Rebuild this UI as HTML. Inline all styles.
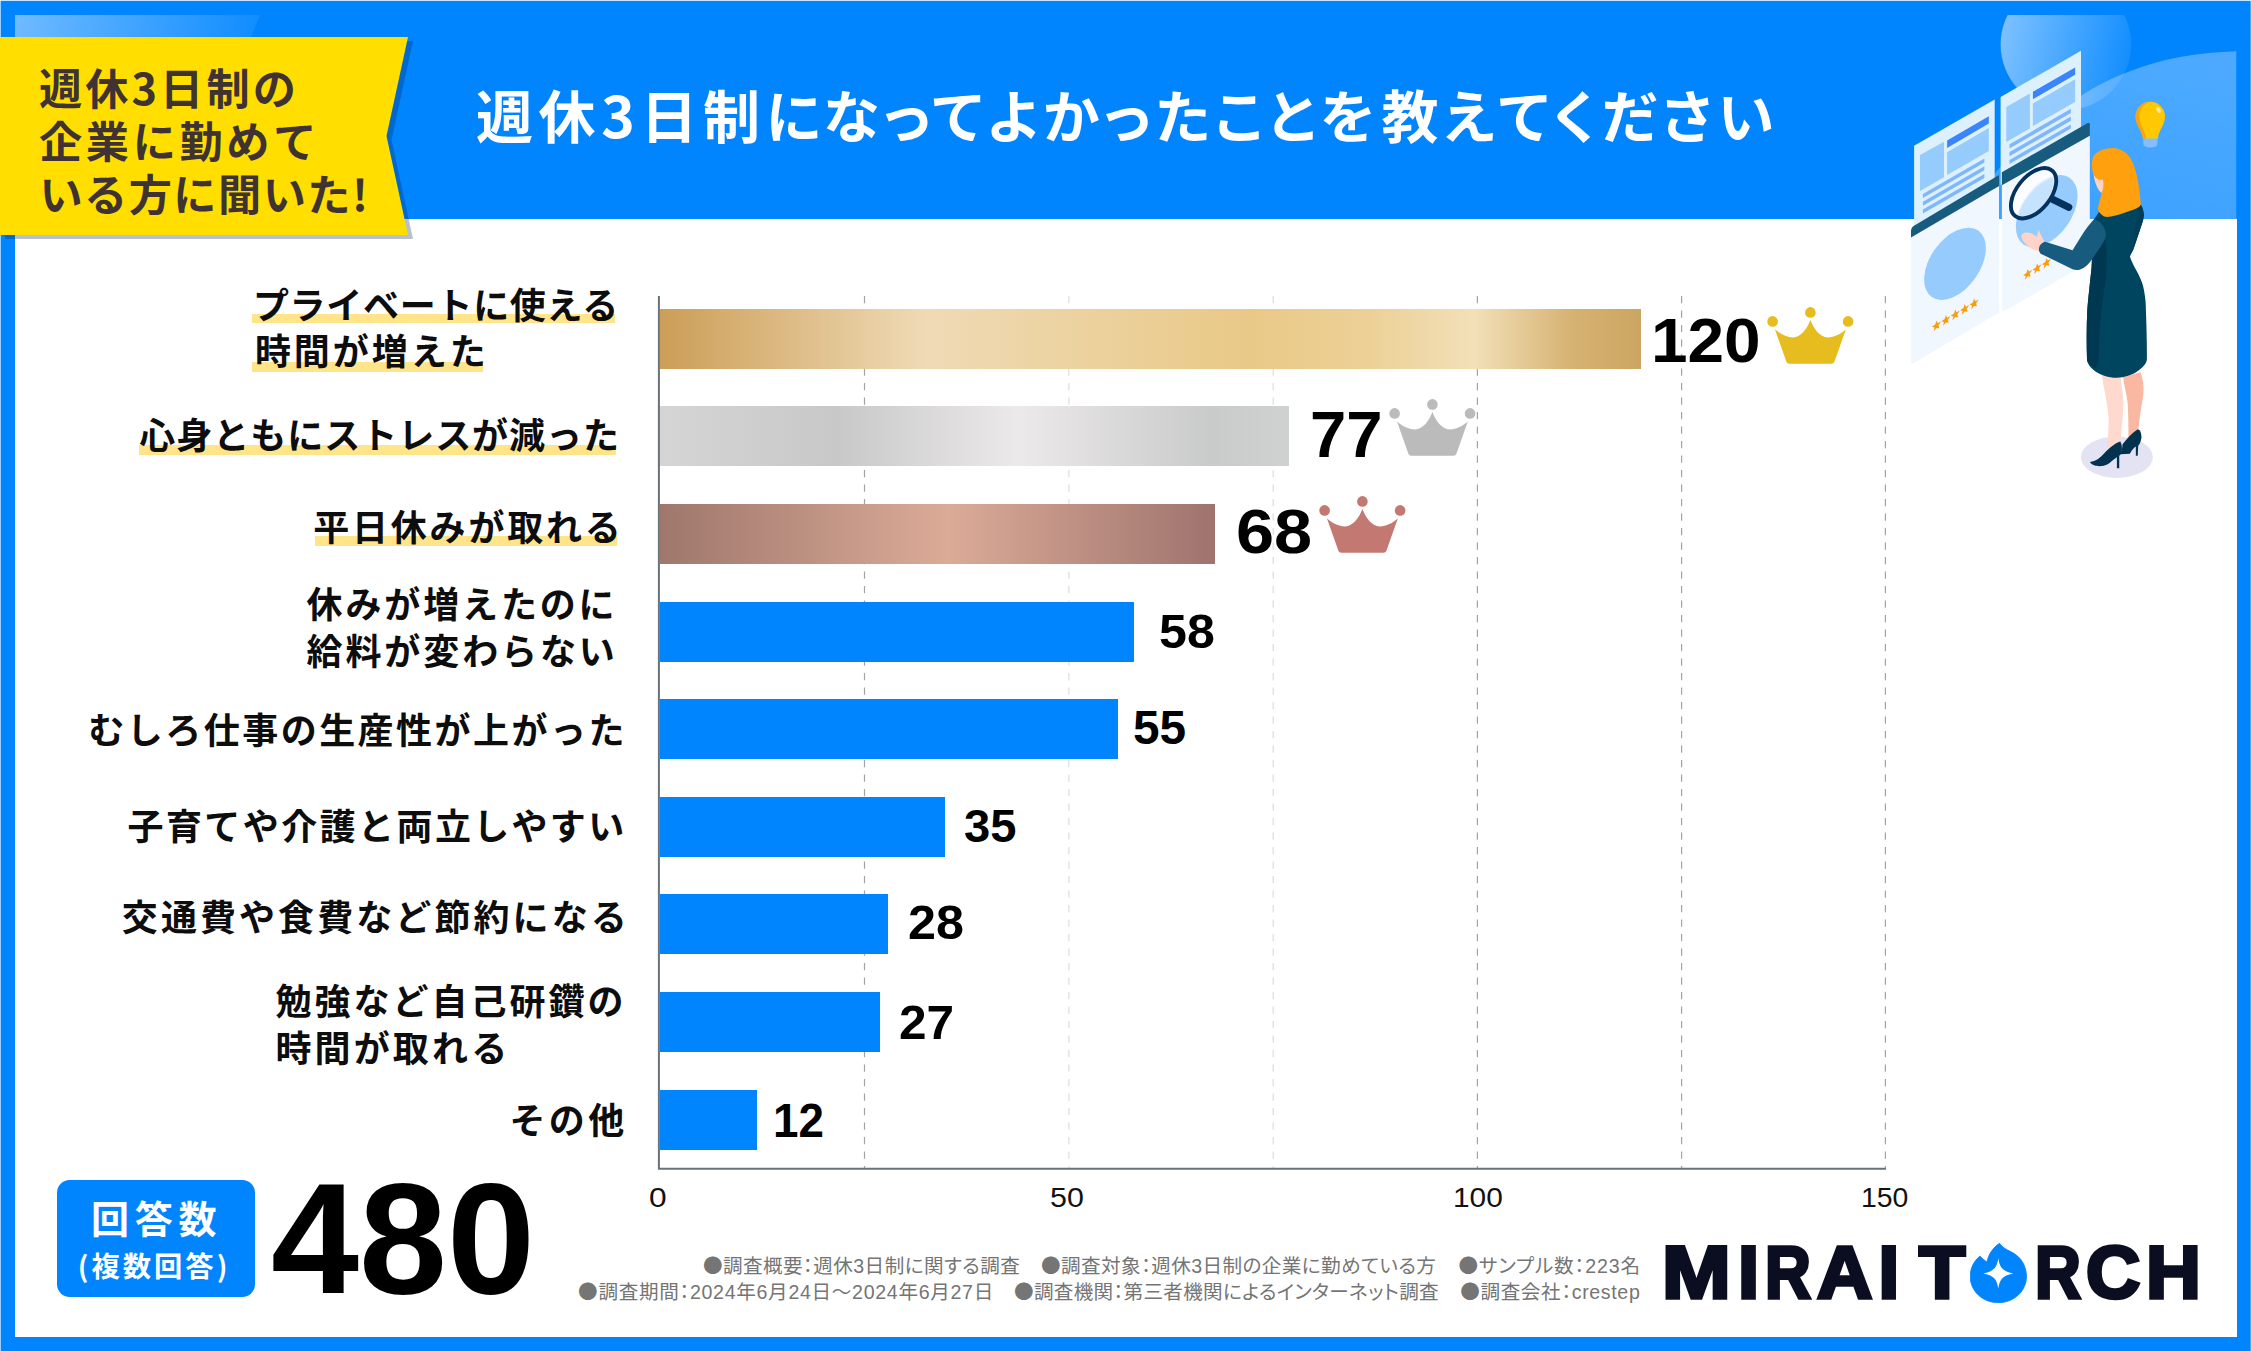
<!DOCTYPE html>
<html lang="ja">
<head>
<meta charset="utf-8">
<title>週休3日制になってよかったことを教えてください</title>
<style>
*{margin:0;padding:0;box-sizing:border-box}
html,body{width:2251px;height:1351px;overflow:hidden;background:#0085ff}
body{font-family:"Liberation Sans","Noto Sans CJK JP",sans-serif;position:relative}
.jp{font-family:"Noto Sans CJK JP","Liberation Sans",sans-serif}
#stage{position:absolute;left:0;top:0;width:2251px;height:1351px;background:#0085ff;overflow:hidden}
#paper{position:absolute;left:15px;top:219px;width:2221.5px;height:1117.5px;background:#fff}
.abs{position:absolute}
/* header */
#hl1{position:absolute;left:15px;top:15px;width:245px;height:22px;background:linear-gradient(100deg,rgba(255,255,255,.44),rgba(255,255,255,.06));clip-path:polygon(0 0,100% 0,236px 100%,0 100%)}
#title span{position:absolute;top:0;white-space:nowrap}
#title{position:absolute;left:476px;top:72.5px;font-family:"Noto Sans CJK JP",sans-serif;font-weight:700;font-size:57px;line-height:80px;color:#fff;letter-spacing:5.32px;white-space:nowrap;font-feature-settings:"palt"}
#ribbonShadow{position:absolute;left:5px;top:41px;width:408px;height:198px;background:rgba(0,30,80,.28);clip-path:polygon(0 0,100% 0,386.5px 50%,100% 100%,0 100%)}
#ribbon{position:absolute;left:0;top:37px;width:408px;height:198px;background:#ffde00;clip-path:polygon(0 0,100% 0,386.5px 50%,100% 100%,0 100%)}
.rt{position:absolute;font-family:"Noto Sans CJK JP",sans-serif;font-weight:700;font-size:43.2px;line-height:52px;color:#3e3232;white-space:nowrap}
/* chart */
.bar{position:absolute;left:660px;height:60px;background:#0085ff}
.lab{position:absolute;font-family:"Noto Sans CJK JP",sans-serif;font-weight:700;font-size:36px;line-height:46px;color:#0d0d0d;letter-spacing:2.2px;white-space:nowrap;text-align:left}
.hl{position:absolute;background:#ffe48a}
.val{position:absolute;transform-origin:0 0;font-family:"Liberation Sans",sans-serif;font-weight:700;color:#000;white-space:nowrap;line-height:1}
.ax{position:absolute;top:1183.6px;font-family:"Liberation Sans",sans-serif;font-size:27.3px;line-height:1;color:#111;transform-origin:0 0;white-space:nowrap}
.foot{position:absolute;font-family:"Liberation Sans","Noto Sans CJK JP",sans-serif;font-weight:400;font-size:19.6px;line-height:26px;color:#757575;white-space:nowrap;font-feature-settings:"palt"}
#ansBox{position:absolute;left:56.7px;top:1179.8px;width:197.9px;height:117px;border-radius:12.7px;background:#0085ff;color:#fff;text-align:left;font-family:"Noto Sans CJK JP",sans-serif;font-weight:700}
#ansBox .a{position:absolute;left:34.2px;top:12.5px;font-size:38px;line-height:50px;letter-spacing:5.8px;white-space:nowrap}
#ansBox .b{position:absolute;left:21.1px;top:65.5px;font-size:28.3px;line-height:40px;letter-spacing:3px;white-space:nowrap}
#total{position:absolute;left:270.7px;top:1160.2px;font-family:"Liberation Sans",sans-serif;font-weight:700;font-size:157.3px;line-height:1;color:#000;transform:scaleX(1.006);transform-origin:0 0}
#logo{position:absolute;left:0;top:0;width:0;height:0}
.lg{position:absolute;display:block;font-family:"Liberation Sans",sans-serif;font-weight:700;font-size:74.4px;line-height:1;color:#0a0e20;-webkit-text-stroke:3.6px #0a0e20;paint-order:stroke fill;transform-origin:0 0;white-space:nowrap}
</style>
</head>
<body>
<div id="stage">
  <div id="paper"></div>
  <div class="abs" style="left:0;top:0;width:2251px;height:1px;background:rgba(255,255,255,.78)"></div>
  <div class="abs" style="left:0;top:0;width:1px;height:1351px;background:rgba(255,255,255,.6)"></div>
  <div class="abs" style="left:2250px;top:0;width:1px;height:1351px;background:rgba(255,255,255,.3)"></div>
  <div id="hl1"></div>

  <!-- header decoration + illustration -->
  <svg id="art" class="abs" style="left:0;top:0" width="2251" height="1351" viewBox="0 0 2251 1351">
    <defs>
      <linearGradient id="gCirc" x1="0" y1="0.3" x2="1" y2="0.5">
        <stop offset="0" stop-color="#fff" stop-opacity=".5"/>
        <stop offset="1" stop-color="#fff" stop-opacity=".08"/>
      </linearGradient>
      <linearGradient id="gCurve" x1="0.7" y1="0" x2="0.3" y2="1">
        <stop offset="0" stop-color="#fff" stop-opacity=".3"/>
        <stop offset="1" stop-color="#fff" stop-opacity=".235"/>
      </linearGradient>
      <clipPath id="hdrClip"><rect x="15" y="15" width="2221.5" height="204"/></clipPath>
      <path id="star" d="M0 -4.600 L1.250 -1.500 L4.600 -1.300 L2 0.800 L2.850 4.100 L0 2.250 L-2.850 4.100 L-2 0.800 L-4.600 -1.300 L-1.250 -1.500 Z"/>
    </defs>
    <!-- header light shapes -->
    <g clip-path="url(#hdrClip)">
      <circle cx="2065.900" cy="44.600" r="65.300" fill="url(#gCirc)"/>
      <path d="M2236.500 51.300 C2218 52 2200 53.500 2183 56.600 C2164 60 2146 65 2129.800 71.300 C2112 78 2096 86 2081.900 95.300 C2048 117 2018 146 1996 172 C1990 180 1984 200 1980 219 L2236.500 219 Z" fill="url(#gCurve)"/>
    </g>
    <!-- back documents -->
    <g>
      <path d="M1914.100 145.800 L1994.700 99.500 L1994.700 230 L1914.100 230 Z" fill="#dcf1fd"/>
      <path d="M1920 155.100 L1944 141.800 L1944 177.300 L1920 191 Z" fill="#96cbfd"/>
      <path d="M1947.100 140.600 L1988.800 116.200 L1988.800 123.600 L1947.100 148 Z" fill="#3a84fe"/>
      <path d="M1947.100 152.200 L1988.800 128.100 L1988.800 151 L1947.100 175 Z" fill="#96cbfd"/>
      <g fill="#80b6fc">
        <path d="M1922.900 193.900 L1984.400 158.400 L1984.400 162.500 L1922.900 198 Z"/>
        <path d="M1922.900 201.700 L1984.400 166.200 L1984.400 170.300 L1922.900 205.800 Z"/>
        <path d="M1922.900 209.500 L1984.400 174 L1984.400 178.100 L1922.900 213.600 Z"/>
      </g>
      <path d="M2000.600 97 L2081 50.700 L2081 140 L2000.600 185 Z" fill="#dcf1fd"/>
      <path d="M2006.300 106.900 L2029.900 93.600 L2029.900 128.500 L2006.300 142.100 Z" fill="#96cbfd"/>
      <path d="M2032.900 91.800 L2075.100 67.400 L2075.100 74.800 L2032.900 99.200 Z" fill="#3a84fe"/>
      <path d="M2032.900 103.600 L2075.100 79.200 L2075.100 101.900 L2032.900 126.100 Z" fill="#96cbfd"/>
      <g fill="#80b6fc">
        <path d="M2009.500 144.300 L2070.900 108.800 L2070.900 112.900 L2009.500 148.400 Z"/>
        <path d="M2009.500 152.100 L2070.900 116.600 L2070.900 120.700 L2009.500 156.200 Z"/>
        <path d="M2009.500 159.900 L2070.900 124.400 L2070.900 128.500 L2009.500 164 Z"/>
      </g>
    </g>
    <!-- front cards -->
    <g>
      <path d="M1911 237 L1999 186 L1999 312.400 L1914 363 Q1911 364 1911 361 Z" fill="#f1f7fe"/>
      <path d="M1911 231 Q1911 227.500 1914 225.700 L1999 175 L1999 186 L1911 237.500 Z" fill="#175b7e"/>
      <ellipse cx="1955" cy="263.800" rx="40.500" ry="24.800" transform="rotate(-55 1955 263.800)" fill="#96cbfd"/>
      <g fill="#f99d0c">
        <use href="#star" transform="matrix(1 -.577 0 1.08 1936.5 325.5)"/><use href="#star" transform="matrix(1 -.577 0 1.08 1945.9 320.0)"/><use href="#star" transform="matrix(1 -.577 0 1.08 1955.3 314.5)"/><use href="#star" transform="matrix(1 -.577 0 1.08 1964.7 309.0)"/><use href="#star" transform="matrix(1 -.577 0 1.08 1974.1 303.5)"/>
      </g>
      <path d="M2001.900 184.500 L2089.800 135.200 L2089.800 261.800 L2004.600 311.100 Q2001.900 312 2001.900 309.800 Z" fill="#f1f7fe"/>
      <path d="M2001.900 172.200 L2087.800 123.100 Q2089.800 122 2089.800 124.500 L2089.800 135.800 L2001.900 185.200 Z" fill="#175b7e"/>
      <ellipse cx="2046.700" cy="211.200" rx="40.500" ry="24.800" transform="rotate(-55 2046.700 211.200)" fill="#96cbfd"/>
      <g fill="#f99d0c">
        <use href="#star" transform="matrix(1 -.577 0 1.08 2027.7 273.9)"/><use href="#star" transform="matrix(1 -.577 0 1.08 2037.1 268.4)"/><use href="#star" transform="matrix(1 -.577 0 1.08 2046.5 262.9)"/>
      </g>
    </g>
    <!-- woman: legs (zoom view V) -->
    <g transform="translate(2010 300) scale(0.14804)">
      <ellipse cx="722" cy="1062" rx="243" ry="140" fill="#e4e3f4"/>
      <path d="M620 505 L748 520 C752 580 766 640 766 700 C766 780 752 860 750 925 L735 1000 L655 1000 C660 930 668 880 666 800 C660 700 635 610 620 505 Z" fill="#ffd9ce"/>
      <path d="M764 520 L882 488 C900 540 906 590 900 640 C890 720 872 800 868 872 L800 930 C800 850 800 780 795 700 C790 640 770 580 764 520 Z" fill="#fab7a1"/>
      <path d="M760 975 C790 940 820 900 860 875 C880 868 888 900 888 930 C885 955 875 975 866 985 L863 1052 L850 1052 L850 990 C835 1000 820 1020 810 1038 L745 1042 C755 1015 760 995 760 975 Z" fill="#01334f"/>
      <path d="M540 1095 C580 1088 605 1072 640 1032 C680 988 720 962 746 955 C762 990 757 1020 746 1046 L738 1052 L738 1136 L722 1136 L722 1062 C700 1076 680 1096 660 1110 C620 1132 555 1126 540 1095 Z" fill="#01334f"/>
    </g>
    <!-- woman: dress -->
    <path d="M2099 212 L2139.200 203.600 C2142 205 2143.500 210 2143.900 215.300 C2143.500 221 2141.500 225 2139.900 229.900 L2133.200 249.900 C2132 252.500 2130.500 255 2129.900 256.600 C2131 260.500 2133 264 2134.600 267.200 C2137 271.500 2139.500 276 2141.200 280.600 C2143 285 2144 289.500 2144.600 293.900 C2145.500 299 2145.900 304 2145.900 310 C2146.500 326 2147 343 2146.900 359.200 C2147 366 2133 377.700 2116.600 377.700 C2100 377.700 2087 367 2087 359.200 C2086.500 343 2086.500 326 2087.300 310 C2088 300 2089.500 288 2090.600 276.600 C2091.500 270 2091.900 264 2091.900 257.900 L2093.300 220.600 Z" fill="#00455f"/>
    <path d="M2093 222 L2105.300 240.600 C2106.500 248 2106.800 256 2106.600 263.200 C2106.500 270 2106 277 2105.300 283.200 C2104 292 2102.500 301 2101.300 310 C2100 326 2099 343 2098.800 359.200 L2095.900 368.500 C2090 365 2087 362 2087 359.200 C2086.500 343 2086.500 326 2087.300 310 C2088 300 2089.500 288 2090.600 276.600 C2091.500 270 2091.900 264 2091.900 257.900 Z" fill="#003852"/>
    <path d="M2139.200 204 C2142 205 2143.500 210 2143.900 215.300 C2143.500 221 2141.500 225 2139.900 229.900 L2133.200 249.900 C2133.500 240 2136 225 2139.200 204 Z" fill="#003e58"/>
    <!-- upper body details (zoom view W) -->
    <g transform="translate(2000 130) scale(0.13323)">
      <!-- magnifier -->
      <ellipse cx="252" cy="475" rx="220" ry="127" transform="rotate(-51 252 475)" fill="#fff" fill-opacity=".62"/>
      <path d="M150 610 C190 500 290 400 395 360 C400 420 385 470 360 520 C310 590 230 650 150 655 C140 645 142 625 150 610 Z" fill="#bfdffe" fill-opacity=".75"/>
      <ellipse cx="252" cy="475" rx="220" ry="127" transform="rotate(-51 252 475)" fill="none" stroke="#03325f" stroke-width="29"/>
      <path d="M398 522 L516 579" stroke="#03325f" stroke-width="54" stroke-linecap="round" fill="none"/>
      <!-- hand -->
      <path d="M335 842 C320 810 302 780 290 750 C280 770 285 790 272 800 C240 770 190 758 165 785 C150 810 180 850 220 880 C250 900 280 912 300 908 C290 880 300 855 335 842 Z" fill="#ffd3c7"/>
      <!-- arm -->
      <path d="M700 675 C740 668 792 720 796 790 C790 830 740 900 680 985 C640 1040 590 1062 545 1046 L305 928 C278 900 295 850 338 838 L545 902 C590 830 640 740 700 675 Z" fill="#175b7e"/>
      <!-- hair + face -->
      <path d="M700 200 C720 160 790 135 850 135 C930 137 985 200 1010 280 C1035 360 1050 450 1057 560 C1050 585 1000 600 940 620 C880 640 830 657 790 652 C760 642 735 612 735 582 C745 540 755 510 765 470 C740 450 715 400 705 340 C685 290 685 240 700 200 Z" fill="#ffa10f"/>
      <path d="M702 332 C714 360 735 376 773 374 C781 410 776 446 762 472 C735 452 712 402 702 332 Z" fill="#ffd0c4"/>
    </g>
    <!-- bulb -->
    <g>
      <path d="M2143.300 137 H2157.500 V143.500 Q2157.500 147.500 2150.400 147.500 Q2143.300 147.500 2143.300 143.500 Z" fill="#8ec3ff" fill-opacity=".85"/>
      <path d="M2135.600 116.600 A14.700 14.700 0 1 1 2165 116.600 C2165 125 2158.800 130 2157.800 138.500 L2143 138.500 C2142 130 2135.600 125 2135.600 116.600 Z" fill="#ffc800"/>
      <path d="M2150.300 101.900 C2142 101.900 2135.600 108.500 2135.600 116.600 C2135.600 125 2142 130 2143 138.500 L2146 138.500 C2145.500 130 2139.500 125 2139.200 116.600 C2139.200 109.500 2143.500 103.500 2150.300 101.900 Z" fill="#f7a410"/>
      <ellipse cx="2158.600" cy="110" rx="2" ry="3.200" transform="rotate(-25 2158.600 110)" fill="#fff" fill-opacity=".6"/>
    </g>
  </svg>

  <div id="title"><span style="left:0;letter-spacing:5.6px">週休3日制に</span><span style="left:347px;letter-spacing:4.84px">なってよかったことを</span><span style="left:905.5px;letter-spacing:6px">教えてください</span></div>
  <div id="ribbonShadow"></div>
  <div id="ribbon"></div>
  <div class="rt" style="left:38.9px;top:59.8px;letter-spacing:3.12px">週休3日制の</div>
  <div class="rt" style="left:38.9px;top:112.9px;letter-spacing:3.68px">企業に勤めて</div>
  <div class="rt" style="left:39.4px;top:165.7px;letter-spacing:1.46px">いる方に聞いた!</div>

  <!-- chart grid -->
  <svg id="grid" class="abs" style="left:0;top:0" width="2251" height="1351" viewBox="0 0 2251 1351">
    <g stroke-width="1.2" stroke-dasharray="7.2 7.3" fill="none">
      <path d="M864.5 296V1168" stroke="#9ea4a9"/>
      <path d="M1068.9 296V1168" stroke="#dcdddf"/>
      <path d="M1273.2 296V1168" stroke="#dcdddf"/>
      <path d="M1477.4 296V1168" stroke="#9ea4a9"/>
      <path d="M1681.6 296V1168" stroke="#9ea4a9"/>
      <path d="M1885.4 296V1168" stroke="#9ea4a9"/>
    </g>
    <path d="M658.9 296V1168.8H1886" stroke="#67727c" stroke-width="2" fill="none"/>
  </svg>

  <!-- bars -->
  <div class="bar" style="top:308.7px;width:981px;background:linear-gradient(90deg,#cc9e57 0%,#efdab5 27%,#e9c987 60%,#ecd096 72%,#f2e0b8 83%,#d6b272 93%,#cca562 100%)"></div>
  <div class="bar" style="top:406.3px;width:629px;background:linear-gradient(90deg,#d5d5d5 0%,#c8c8c8 28%,#ece9ea 57%,#c9caca 88%,#d0d2d2 100%)"></div>
  <div class="bar" style="top:503.9px;width:555px;background:linear-gradient(90deg,#9f776c 0%,#dbab97 52%,#9f736e 100%)"></div>
  <div class="bar" style="top:601.5px;width:474px"></div>
  <div class="bar" style="top:699.1px;width:458px"></div>
  <div class="bar" style="top:796.7px;width:285px"></div>
  <div class="bar" style="top:894.3px;width:228px"></div>
  <div class="bar" style="top:991.9px;width:220px"></div>
  <div class="bar" style="top:1089.5px;width:97px"></div>

  <!-- labels -->
  <div class="hl" style="left:251.9px;top:313.7px;width:363.6px;height:9.8px"></div>
  <div class="hl" style="left:251.9px;top:362.4px;width:231.5px;height:10.0px"></div>
  <div class="hl" style="left:139.2px;top:445px;width:477.0px;height:10px"></div>
  <div class="hl" style="left:314.5px;top:536.3px;width:302.1px;height:9.7px"></div>
  <div class="lab" style="left:252.9px;top:279.7px;letter-spacing:0.71px">プライベートに使える</div>
  <div class="lab" style="left:254.9px;top:326.2px;letter-spacing:2.96px">時間が増えた</div>
  <div class="lab" style="left:139.3px;top:410.4px;letter-spacing:0.98px">心身ともにストレスが減った</div>
  <div class="lab" style="left:313.2px;top:501.6px;letter-spacing:2.8px">平日休みが取れる</div>
  <div class="lab" style="left:306.6px;top:579.4px;letter-spacing:2.86px">休みが増えたのに</div>
  <div class="lab" style="left:306.6px;top:625.8px;letter-spacing:2.89px">給料が変わらない</div>
  <div class="lab" style="left:88.2px;top:704.8px;letter-spacing:2.49px">むしろ仕事の生産性が上がった</div>
  <div class="lab" style="left:127.5px;top:801.0px;letter-spacing:2.43px">子育てや介護と両立しやすい</div>
  <div class="lab" style="left:121.8px;top:891.6px;letter-spacing:3.08px">交通費や食費など節約になる</div>
  <div class="lab" style="left:275.4px;top:975.6px;letter-spacing:3.0px">勉強など自己研鑽の</div>
  <div class="lab" style="left:275.4px;top:1022.8px;letter-spacing:3.16px">時間が取れる</div>
  <div class="lab" style="left:509.4px;top:1095.1px;letter-spacing:3.4px">その他</div>

  <!-- values -->
  <div class="val" style="left:1651.2px;top:309.3px;font-size:63.4px;transform:scaleX(1.037)">120</div>
  <div class="val" style="left:1310.0px;top:403.4px;font-size:64.9px;transform:scaleX(1.005)">77</div>
  <div class="val" style="left:1235.5px;top:500.2px;font-size:63.2px;transform:scaleX(1.083)">68</div>
  <div class="val" style="left:1158.5px;top:608.0px;font-size:47.3px;transform:scaleX(1.061)">58</div>
  <div class="val" style="left:1133.3px;top:703.8px;font-size:47.6px;transform:scaleX(1.004)">55</div>
  <div class="val" style="left:964.3px;top:802.8px;font-size:46.9px;transform:scaleX(1.006)">35</div>
  <div class="val" style="left:907.5px;top:898.9px;font-size:47.3px;transform:scaleX(1.063)">28</div>
  <div class="val" style="left:898.6px;top:997.8px;font-size:48.6px;transform:scaleX(1.02)">27</div>
  <div class="val" style="left:773.3px;top:1097.1px;font-size:47.6px;transform:scaleX(0.962)">12</div>

  <!-- crowns -->
  <svg class="abs" style="left:1767px;top:307px" width="87" height="57" viewBox="0 0 87 57"><use href="#crown" fill="#e6bc1e"/></svg>
  <svg class="abs" style="left:1389.3px;top:398.9px" width="87" height="57" viewBox="0 0 87 57"><use href="#crown" fill="#bbbbbb"/></svg>
  <svg class="abs" style="left:1318.7px;top:495.9px" width="87" height="57" viewBox="0 0 87 57"><use href="#crown" fill="#c47872"/></svg>
  <svg width="0" height="0" style="position:absolute"><defs>
    <g id="crown">
      <circle cx="43.4" cy="5.4" r="5.3"/><circle cx="5.6" cy="14.4" r="5.3"/><circle cx="81.1" cy="14.4" r="5.3"/>
      <path d="M7.9 22.2 C13 27 20 30.6 26.3 30.4 C34 30 40 22 43.4 13 C46.8 22 52.8 30 60.5 30.4 C66.8 30.6 73.8 27 78.9 22.2 L67.5 54.5 Q66.8 56.7 64.5 56.7 H22.3 Q20 56.7 19.3 54.5 Z"/>
    </g>
  </defs></svg>

  <!-- axis labels -->
  <div class="ax" style="left:648.6px;transform:scaleX(1.162)">0</div>
  <div class="ax" style="left:1050.1px;transform:scaleX(1.114)">50</div>
  <div class="ax" style="left:1453.2px;transform:scaleX(1.095)">100</div>
  <div class="ax" style="left:1861.2px;transform:scaleX(1.04)">150</div>

  <!-- footer -->
  <div id="ansBox"><div class="a">回答数</div><div class="b">(複数回答)</div></div>
  <div id="total">480</div>
  <div class="foot" style="left:702.9px;top:1251.9px;letter-spacing:0.43px"><span class="jp">●</span>調査概要：週休3日制に関する調査</div>
  <div class="foot" style="left:1041.1px;top:1251.9px;letter-spacing:0.4px"><span class="jp">●</span>調査対象：週休3日制の企業に勤めている方</div>
  <div class="foot" style="left:1458.5px;top:1251.9px;letter-spacing:0.86px"><span class="jp">●</span>サンプル数：223名</div>
  <div class="foot" style="left:578.1px;top:1277.9px;letter-spacing:0.68px"><span class="jp">●</span>調査期間：2024年6月24日～2024年6月27日</div>
  <div class="foot" style="left:1014.0px;top:1277.9px;letter-spacing:0.29px"><span class="jp">●</span>調査機関：第三者機関によるインターネット調査</div>
  <div class="foot" style="left:1460.2px;top:1277.9px;letter-spacing:0.63px"><span class="jp">●</span>調査会社：crestep</div>

  <div id="logo">
    <span class="lg" style="left:1661.9px;top:1236.3px;transform:scaleX(1.109)">M</span><span class="lg" style="left:1737.7px;top:1236.3px;transform:scaleX(1.021)">I</span><span class="lg" style="left:1764.6px;top:1236.3px;transform:scaleX(0.854)">R</span><span class="lg" style="left:1817.3px;top:1236.3px;transform:scaleX(1.030)">A</span><span class="lg" style="left:1878.6px;top:1236.3px;transform:scaleX(1.000)">I</span>
    <span class="lg" style="left:1918.7px;top:1236.3px;transform:scaleX(1.019)">T</span>
    <svg class="abs" style="left:1970px;top:1242.900px" width="57" height="60" viewBox="0 0 57 60"><path d="M29.600 0.300 C31.500 3.500 36 6.500 41.600 9.100 C50.500 13.500 56.500 22.500 56.500 33.500 C56.500 48 44 59.700 28.300 59.700 C12.600 59.700 0.200 48 0.200 33.500 C0.200 25 4 18 9.900 13.100 C12 15.500 14.500 17.500 16.900 19 C18.500 11.500 22.500 5 29.600 0.300 Z" fill="#0085ff" stroke="#0085ff" stroke-width=".8" stroke-linejoin="round"/><path d="M28.300 15.300 C29.800 24.500 32 28 43.200 30.400 C32 32.800 29.800 36.500 28.300 45.500 C26.800 36.500 24.600 32.800 13.400 30.400 C24.600 28 26.800 24.500 28.300 15.300 Z" fill="#fff"/></svg>
    <span class="lg" style="left:2034.6px;top:1236.3px;transform:scaleX(0.854)">R</span><span class="lg" style="left:2086.3px;top:1235.6px;transform:scaleX(1.011)">C</span><span class="lg" style="left:2146.2px;top:1236.3px;transform:scaleX(1.021)">H</span>
  </div>
</div>
</body>
</html>
